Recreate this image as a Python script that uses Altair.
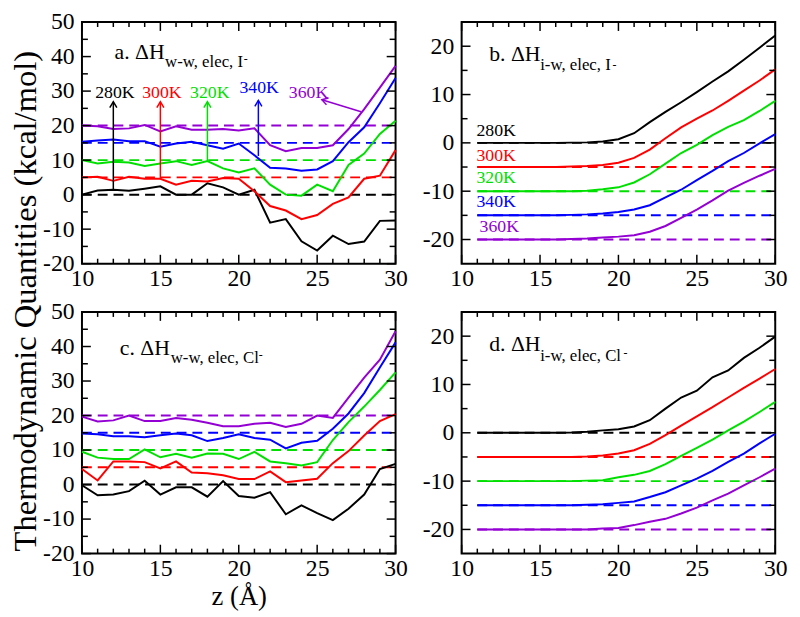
import altair as alt
import pandas as pd

FONT = "Liberation Serif"
W, H = 318, 245

TEMPS = ["280K", "300K", "320K", "340K", "360K"]
COLORS = ["#000000", "#ff0000", "#00e000", "#0000ff", "#9400d3"]

# ---------------- panel a : dH w-w, elec, I- ----------------
Z_A = list(range(10, 31))
A_280 = [0, 1.2, 1.4, 1.1, 1.7, 2.4, 0, 0, 3.3, 2.1, 0, 1.4, -8.1, -7.1, -13.5, -16.2, -11.9, -14.3, -13.6, -7.6, -7.5]
A_300 = [5, 5.2, 4.0, 5.2, 4.6, 4.6, 2.9, 4.0, 3.8, 4.8, 4.6, 1.0, -3.3, -4.6, -7.1, -5.9, -2.7, -0.8, 4.6, 5.5, 12.9]
A_320 = [10, 9.0, 9.5, 9.3, 8.3, 9.0, 9.7, 8.6, 9.7, 7.6, 6.4, 7.6, 2.9, 0, -0.3, 2.9, 1.0, 8.6, 11.9, 17.6, 21.4]
A_340 = [15.3, 15.7, 16.0, 15.5, 15.5, 13.9, 14.8, 15.3, 14.3, 13.3, 14.8, 11.4, 7.8, 7.6, 6.9, 7.3, 9.7, 15.2, 19.5, 26.5, 33.8]
A_360 = [20, 19.8, 19.0, 19.2, 20.2, 18.3, 19.8, 18.8, 18.8, 19.0, 18.6, 19.2, 14.3, 12.6, 13.5, 13.5, 14.3, 19.0, 24.8, 31.0, 37.3]

# ---------------- panel b : dH i-w, elec, I- ----------------
Z_B = list(range(11, 31))
B_280 = [0, 0, 0, 0, 0, 0, 0.05, 0.1, 0.3, 0.75, 2.0, 4.3, 6.4, 8.4, 10.5, 12.7, 14.8, 17.2, 19.7, 22.2]
B_300 = [-5, -5, -5, -5, -5, -5, -4.9, -4.8, -4.6, -4.1, -3.1, -1.4, 0.95, 3.2, 5.0, 6.7, 8.7, 10.8, 12.9, 15.2]
B_320 = [-10, -10, -10, -10, -10, -10, -10, -9.9, -9.6, -9.2, -8.2, -6.5, -4.3, -2.1, -0.4, 1.6, 3.3, 4.7, 6.6, 8.7]
B_340 = [-15, -15, -15, -15, -15, -15, -14.9, -14.8, -14.6, -14.3, -13.8, -12.9, -11.3, -9.7, -7.7, -5.8, -3.8, -2.1, -0.1, 1.8]
B_360 = [-20, -20, -20, -20, -20, -20, -19.9, -19.8, -19.6, -19.4, -19.1, -18.4, -17.2, -15.5, -13.8, -11.9, -9.9, -8.3, -6.8, -5.4]

# ---------------- panel c : dH w-w, elec, Cl- ----------------
Z_C = list(range(10, 31))
C_280 = [-0.2, -3.1, -2.9, -1.9, 1.1, -2.9, -0.8, -0.8, -3.5, 1.0, -3.3, -3.8, -2.2, -8.6, -6.0, -8.3, -10.3, -7.0, -2.9, 4.5, 6.0]
C_300 = [4.5, 1.2, 6.7, 6.7, 6.5, 4.7, 6.7, 3.5, 3.3, 2.7, 1.6, 1.6, 3.8, 0.7, 1.2, 1.7, 6.2, 9.7, 14.2, 18.4, 20.4]
C_320 = [9.5, 7.8, 7.4, 7.4, 10.2, 7.9, 8.9, 7.8, 9.0, 8.9, 7.4, 9.5, 6.7, 6.2, 5.5, 6.5, 12.9, 18.1, 22.6, 27.4, 32.5]
C_340 = [14.8, 14.6, 14.0, 14.0, 13.7, 14.3, 14.8, 14.3, 12.6, 13.5, 14.6, 13.5, 13.0, 10.5, 12.1, 12.7, 16.2, 20.6, 26.5, 33.9, 41.2]
C_360 = [19.7, 18.3, 18.6, 20.0, 18.4, 18.4, 19.3, 18.8, 17.9, 16.9, 16.9, 17.6, 17.9, 16.7, 17.6, 20.0, 19.3, 25.2, 31.0, 36.2, 44.4]

# ---------------- panel d : dH i-w, elec, Cl- ----------------
Z_D = list(range(11, 31))
D_280 = [0, 0, 0, 0, 0, 0, 0.05, 0.2, 0.5, 0.75, 1.3, 2.6, 5.0, 7.3, 8.7, 11.5, 12.9, 15.5, 17.6, 19.9]
D_300 = [-5, -5, -5, -5, -5, -5, -5, -4.9, -4.7, -4.3, -3.6, -2.3, -0.5, 1.5, 3.4, 5.3, 7.3, 9.3, 11.2, 13.2]
D_320 = [-10, -10, -10, -10, -10, -10, -10, -9.9, -9.8, -9.2, -8.7, -7.9, -6.5, -4.8, -3.1, -1.4, 0.5, 2.3, 4.3, 6.4]
D_340 = [-15, -15, -15, -15, -15, -15, -15, -14.9, -14.8, -14.5, -14.2, -13.3, -12.3, -10.9, -9.5, -7.9, -6.0, -4.3, -2.2, -0.2]
D_360 = [-20, -20, -20, -20, -20, -20, -20, -20, -19.8, -19.7, -19.1, -18.4, -17.8, -16.7, -15.5, -14.0, -12.6, -10.9, -9.2, -7.4]

# reference (dashed) levels
REF_UP = [0, 5, 10, 15, 20]
REF_DOWN = [0, -5, -10, -15, -20]

# axis ticks
X_MAJOR = [10, 15, 20, 25, 30]
X_MINOR = [z for z in range(11, 30) if z % 5 != 0]
Y_MAJOR_AC = [-20, -10, 0, 10, 20, 30, 40, 50]
Y_MINOR_AC = [-15, -5, 5, 15, 25, 35, 45]
Y_MAJOR_BD = [-20, -10, 0, 10, 20]
Y_MINOR_BD = [-15, -5, 5, 15]

# panel titles
TITLE_MAIN = ["a. \u0394H", "b. \u0394H", "c. \u0394H", "d. \u0394H"]
TITLE_SUB = ["w-w, elec, I", "i-w, elec, I", "w-w, elec, Cl", "i-w, elec, Cl"]
TITLE_Z = [12.08, 11.76, 12.41, 11.76]
TITLE_V = [39.3, 17.0, 37.6, 16.9]
SUB_Z = [15.3, 15.01, 15.66, 15.01]
SUB_V = [36.9, 15.0, 35.2, 14.8]
SUP_Z = [20.45, 19.75, 21.4, 20.45]
SUP_V = [39.6, 16.4, 37.9, 16.7]

# temperature labels
LAB_A_Z = [12.1, 15.1, 18.15, 21.3, 24.45]
LAB_A_V = [29.5, 29.5, 29.5, 30.9, 29.5]
LAB_B_Z = [12.2, 12.2, 12.2, 12.2, 12.4]
LAB_B_V = [2.4, -2.8, -7.2, -12.3, -17.5]

# arrows in panel a (tail -> head)
ARR_X0 = [12.0, 15.0, 18.0, 21.25, 27.8]
ARR_Y0 = [1.4, 4.6, 9.8, 11.2, 24.0]
ARR_X1 = [12.0, 15.0, 18.0, 21.25, 25.3]
ARR_Y1 = [26.9, 26.9, 26.9, 27.3, 27.5]
ARR_ANG = [0, 0, 0, 0, 287]

YTITLE = "Thermodynamic Quantities (kcal/mol)"

color_enc = alt.Color("T:N", scale=alt.Scale(domain=TEMPS, range=COLORS), legend=None)


def long_df(z, series):
    rows = []
    for t, vals in zip(TEMPS, series):
        for zz, v in zip(z, vals):
            rows.append({"z": zz, "v": v, "T": t})
    return pd.DataFrame(rows)


def panel(idx, z, series, refs, ref_x0, ydom, ymaj, ymin, xtitle, extra):
    xs = alt.Scale(domain=[10, 30], nice=False, zero=False)
    ys = alt.Scale(domain=ydom, nice=False, zero=False)
    xaxis = alt.Axis(values=X_MAJOR, ticks=False, domain=False, grid=False,
                     labelFont=FONT, labelFontSize=24, labelColor="black",
                     labelPadding=3, labelFlush=False, labelOverlap=False, format="d",
                     title=xtitle if xtitle else "", titleFont=FONT, titleFontSize=27,
                     titleFontWeight="normal", titleColor="black", titlePadding=4)
    yaxis = alt.Axis(values=ymaj, ticks=False, domain=False, grid=False, title="",
                     labelFont=FONT, labelFontSize=24, labelColor="black", labelPadding=8,
                     labelExpr="'' + datum.value")

    def X(f):
        return alt.X(f, scale=xs, axis=xaxis)

    def Y(f):
        return alt.Y(f, scale=ys, axis=yaxis)

    refdf = pd.DataFrame({"T": TEMPS, "y": refs, "x0": [ref_x0] * 5, "x1": [30] * 5})
    dashed = alt.Chart(refdf).mark_rule(strokeDash=[10, 6], strokeWidth=2).encode(
        x=X("x0:Q"), x2="x1:Q", y=Y("y:Q"), color=color_enc)

    lines = alt.Chart(long_df(z, series)).mark_line(strokeWidth=2).encode(
        x=X("z:Q"), y=Y("v:Q"), color=color_enc)

    layers = [dashed, lines]

    # inward ticks on all four sides
    for vals, L in ((X_MAJOR, 9), (X_MINOR, 5)):
        d = pd.DataFrame({"t": vals})
        base = alt.Chart(d).mark_rule(color="black", strokeWidth=1.5)
        layers.append(base.encode(x=X("t:Q"), y=alt.value(H), y2=alt.value(H - L)))
        layers.append(base.encode(x=X("t:Q"), y=alt.value(0), y2=alt.value(L)))
    for vals, L in ((ymaj, 9), (ymin, 6)):
        d = pd.DataFrame({"t": vals})
        base = alt.Chart(d).mark_rule(color="black", strokeWidth=1.5)
        layers.append(base.encode(y=Y("t:Q"), x=alt.value(0), x2=alt.value(L)))
        layers.append(base.encode(y=Y("t:Q"), x=alt.value(W), x2=alt.value(W - L)))

    # panel title with subscript / superscript
    tdf = pd.DataFrame({"z": [TITLE_Z[idx]], "v": [TITLE_V[idx]], "s": [TITLE_MAIN[idx]]})
    layers.append(alt.Chart(tdf).mark_text(font=FONT, fontSize=22, align="left", baseline="alphabetic",
                                           color="black").encode(x=X("z:Q"), y=Y("v:Q"), text="s:N"))
    sdf = pd.DataFrame({"z": [SUB_Z[idx]], "v": [SUB_V[idx]], "s": [TITLE_SUB[idx]]})
    layers.append(alt.Chart(sdf).mark_text(font=FONT, fontSize=17, align="left", baseline="alphabetic",
                                           color="black").encode(x=X("z:Q"), y=Y("v:Q"), text="s:N"))
    pdf_ = pd.DataFrame({"z": [SUP_Z[idx]], "v": [SUP_V[idx]], "s": ["-"]})
    layers.append(alt.Chart(pdf_).mark_text(font=FONT, fontSize=12, align="center", baseline="middle",
                                            color="black").encode(x=X("z:Q"), y=Y("v:Q"), text="s:N"))

    for e in extra:
        layers.append(e(X, Y))

    return alt.layer(*layers).properties(width=W, height=H)


def temp_labels(zs, vs):
    def make(X, Y):
        d = pd.DataFrame({"z": zs, "v": vs, "T": TEMPS})
        return alt.Chart(d).mark_text(font=FONT, fontSize=18, align="center", baseline="middle").encode(
            x=X("z:Q"), y=Y("v:Q"), text="T:N", color=color_enc)
    return make


def arrows(X, Y):
    d = pd.DataFrame({"x0": ARR_X0, "y0": ARR_Y0, "x1": ARR_X1, "y1": ARR_Y1, "ang": ARR_ANG, "T": TEMPS})
    shaft = alt.Chart(d).mark_rule(strokeWidth=1.5).encode(
        x=X("x0:Q"), y=Y("y0:Q"), x2="x1:Q", y2="y1:Q", color=color_enc)
    head = alt.Chart(d).mark_point(shape="M-0.6,1L0,0L0.6,1", filled=False, size=144,
                                   strokeWidth=1.5, opacity=1).encode(
        x=X("x1:Q"), y=Y("y1:Q"), angle=alt.Angle("ang:Q", scale=None), color=color_enc)
    return alt.layer(shaft, head)


def ytitle(X, Y):
    d = pd.DataFrame({"s": [YTITLE]})
    return alt.Chart(d).mark_text(font=FONT, fontSize=33, angle=270, align="center", baseline="middle",
                                  color="black").encode(
        x=alt.value(-57), y=alt.value(283), text="s:N")


pa = panel(0, Z_A, [A_280, A_300, A_320, A_340, A_360], REF_UP, 10, [-20, 50],
           Y_MAJOR_AC, Y_MINOR_AC, None,
           [temp_labels(LAB_A_Z, LAB_A_V), arrows, ytitle])
pb = panel(1, Z_B, [B_280, B_300, B_320, B_340, B_360], REF_DOWN, 11, [-25, 25],
           Y_MAJOR_BD, Y_MINOR_BD, None, [temp_labels(LAB_B_Z, LAB_B_V)])
pc = panel(2, Z_C, [C_280, C_300, C_320, C_340, C_360], REF_UP, 10, [-20, 50],
           Y_MAJOR_AC, Y_MINOR_AC, "z (\u00c5)", [])
pd_ = panel(3, Z_D, [D_280, D_300, D_320, D_340, D_360], REF_DOWN, 11, [-25, 25],
            Y_MAJOR_BD, Y_MINOR_BD, None, [])

chart = alt.concat(pa, pb, pc, pd_, columns=2, spacing={"row": 49, "column": 67},
                   bounds="flush").properties(
    padding={"left": 0, "top": -3, "right": 4, "bottom": 0},
    background="white"
).configure_view(stroke="black", strokeWidth=2)

chart.save("out.html", embed_options={"renderer": "svg", "actions": False})
